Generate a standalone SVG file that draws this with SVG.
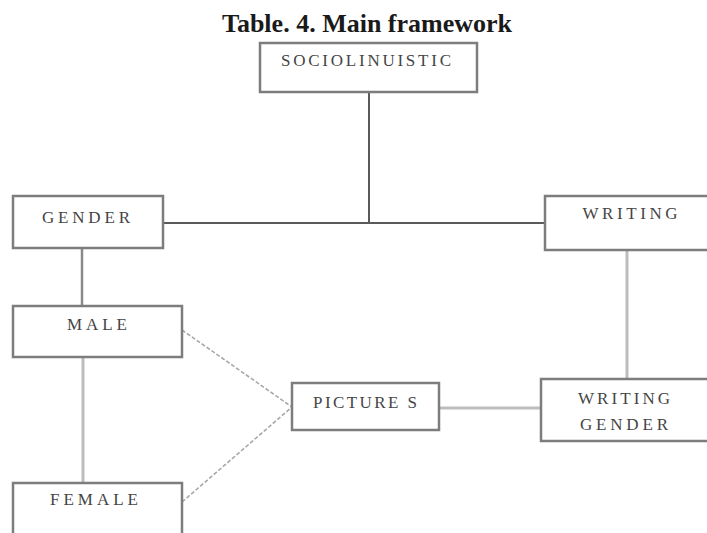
<svg xmlns="http://www.w3.org/2000/svg" width="707" height="533" viewBox="0 0 707 533">
<style>
.box{fill:#fff;stroke:#7d7d7d;stroke-width:2.5}
.lbl{font-family:"Liberation Serif","Times New Roman",serif;font-size:17px;fill:#454545;text-anchor:middle}
.title{font-family:"Liberation Serif","Times New Roman",serif;font-size:26px;font-weight:bold;fill:#1a1a1a;text-anchor:middle}
.dark{stroke:#5a5a5a;stroke-width:2;fill:none}
.mid{stroke:#8a8a8a;stroke-width:2.5;fill:none}
.light{stroke:#bdbdbd;stroke-width:3;fill:none}
.diag{stroke:#a8a8a8;stroke-width:1.6;fill:none;stroke-dasharray:4 2}
</style>
<rect width="707" height="533" fill="#fff"/>
<text class="title" x="367" y="32">Table. 4. Main framework</text>
<g id="connectors">
<line class="dark" x1="369" y1="92" x2="369" y2="223"/>
<line class="dark" x1="163" y1="223" x2="545" y2="223"/>
<line class="mid" x1="82" y1="248" x2="82" y2="306"/>
<line class="light" x1="83" y1="357" x2="83" y2="483"/>
<line class="light" x1="627" y1="250" x2="627" y2="379"/>
<line class="light" x1="439" y1="408" x2="541" y2="408"/>
<line class="diag" x1="182" y1="330" x2="292" y2="407"/>
<line class="diag" x1="182" y1="502" x2="292" y2="407"/>
</g>
<g id="sociolinuistic">
<rect class="box" x="260" y="43" width="217" height="49"/>
<text class="lbl" x="366" y="66" textLength="170" lengthAdjust="spacing">SOCIOLINUISTIC</text>
</g>
<g id="gender">
<rect class="box" x="13" y="196" width="150" height="52"/>
<text class="lbl" x="86" y="223" textLength="88" lengthAdjust="spacing">GENDER</text>
</g>
<g id="writing">
<rect class="box" x="545" y="196" width="175" height="54"/>
<text class="lbl" x="630" y="219" textLength="95" lengthAdjust="spacing">WRITING</text>
</g>
<g id="male">
<rect class="box" x="13" y="306" width="169" height="51"/>
<text class="lbl" x="97" y="330" textLength="60" lengthAdjust="spacing">MALE</text>
</g>
<g id="pictures">
<rect class="box" x="292" y="383" width="147" height="47"/>
<text class="lbl" x="365" y="408" textLength="104" lengthAdjust="spacing">PICTURE S</text>
</g>
<g id="writing-gender">
<rect class="box" x="541" y="379" width="180" height="62"/>
<text class="lbl" x="624" y="404" textLength="92" lengthAdjust="spacing">WRITING</text>
<text class="lbl" x="624" y="430" textLength="88" lengthAdjust="spacing">GENDER</text>
</g>
<g id="female">
<rect class="box" x="13" y="483" width="169" height="70"/>
<text class="lbl" x="94" y="505" textLength="88" lengthAdjust="spacing">FEMALE</text>
</g>
</svg>
